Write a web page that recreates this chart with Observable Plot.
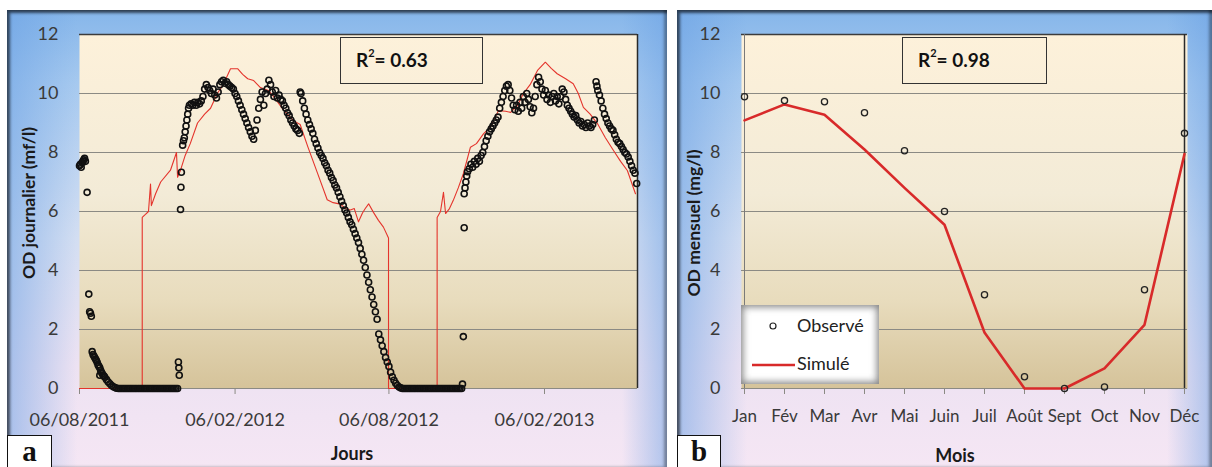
<!DOCTYPE html>
<html><head><meta charset="utf-8">
<script src="https://cdn.jsdelivr.net/npm/d3@7"></script>
<script src="https://cdn.jsdelivr.net/npm/@observablehq/plot@0.6"></script>
<style>
body{margin:0;background:#fff;width:1212px;height:467px;overflow:hidden;position:relative;font-family:Lato,"Open Sans",sans-serif;}
.panel{position:absolute;top:10px;height:457px;overflow:hidden;
 background:
  linear-gradient(90deg, rgba(105,160,228,.55) 0px, rgba(105,160,228,0) 70px, rgba(105,160,228,0) calc(100% - 45px), rgba(105,160,228,.5) 100%),
  linear-gradient(180deg, #86b6ea 0%, #a6c9ef 16%, #d3def2 50%, #ede2f2 78%, #f5e6f4 100%);
 box-shadow: inset 3px 3px 3px rgba(0,0,0,.6), inset -3px 0 3px rgba(0,0,0,.35);}
.panel svg{position:absolute;left:0;top:0;}
.ytitle{position:absolute;font-weight:700;font-size:17.5px;color:#1a1a1a;white-space:nowrap;transform:translate(-50%,-50%) rotate(-90deg);}
.xtitle{position:absolute;font-weight:700;font-size:18px;color:#1a1a1a;white-space:nowrap;transform:translate(-50%,-50%);}
.r2{position:absolute;border:1.5px solid #333;box-sizing:border-box;font-weight:700;font-size:19px;color:#111;padding-left:15px;line-height:44px;background:transparent;}
.r2 sup{font-size:11px;vertical-align:top;line-height:30px;}
.tag{position:absolute;background:#fff;border:1.5px solid #111;box-sizing:border-box;font-family:"Liberation Serif","DejaVu Serif",serif;font-weight:700;font-size:29px;line-height:30px;text-align:center;color:#111;}
.legend{position:absolute;background:#fff;box-shadow: inset 0 0 7px 2px rgba(90,90,90,.75);font-size:18px;color:#222;}
.legend div{position:absolute;left:56px;white-space:nowrap;}
</style></head>
<body>
<div id="pa" class="panel" style="left:7px;width:660px;"></div>
<div id="pb" class="panel" style="left:677px;width:535px;"></div>
<script>
// ---------- Data ----------
// Panel a: days since 06/08/2011, value (mg/l)
const startDate = "2011-08-06";
const endDate = "2013-05-27";
const xTickDates = ["2011-08-06","2012-02-06","2012-08-06","2013-02-06"];
const xTickLabels = ["06/08/2011","06/02/2012","06/08/2012","06/02/2013"];
const yTicks = [0,2,4,6,8,10,12];

const observedDaily = [
[0,7.55],[1,7.6],[2,7.5],[3,7.65],[4,7.7],[5,7.75],[6,7.8],[7,7.7],
[9,6.65],[11,3.2],[12,2.6],[13,2.55],[14,2.45],
[15,1.25],[16,1.15],[17,1.1],[18,1.05],[19,1.0],[20,0.95],[21,0.88],[22,0.8],[23,0.75],[24,0.7],[24,0.45],[25,0.62],[26,0.55],[27,0.5],[28,0.45],[29,0.42],[30,0.38],[32,0.3],[34,0.22],[36,0.16],[38,0.1],[40,0.06],[42,0.03],[44,0.01],
[46,0],[48,0],[50,0],[52,0],[54,0],[56,0],[58,0],[60,0],[62,0],[64,0],[66,0],[68,0],[70,0],[72,0],[74,0],[76,0],[78,0],[80,0],[82,0],[84,0],[86,0],[88,0],[90,0],[92,0],[94,0],[96,0],[98,0],[100,0],[102,0],[104,0],[106,0],[108,0],[110,0],[112,0],[114,0],[116,0],
[117,0.9],[117.5,0.7],[118,0.45],[119.5,6.07],[120,6.82],[120.5,7.33],
[122,8.25],[123,8.4],[124,8.5],[125,8.7],[126,8.9],[127,9.1],[128,9.3],[129,9.5],[130,9.6],[132,9.65],[134,9.6],[136,9.7],[138,9.6],[140,9.7],[142,9.65],[144,9.75],[146,9.9],[148,10.15],[150,10.3],[152,10.2],[154,10.1],[156,10.0],[158,10.15],[160,9.95],[162,9.85],[164,10.05],[166,10.3],[168,10.4],[170,10.45],[172,10.35],[174,10.4],[176,10.3],[178,10.25],[180,10.2],[182,10.15],[184,10.0],[186,9.9],[188,9.75],[190,9.6],[192,9.45],[194,9.3],[196,9.15],[198,9.0],[200,8.85],[202,8.7],[204,8.55],[206,8.45],[208,8.75],[210,9.1],[212,9.5],[214,9.8],[216,10.05],[218,9.6],[220,10.0],[222,10.15],[224,10.45],[226,10.3],[228,10.05],[230,9.9],[232,10.1],[234,9.85],[236,9.95],[238,9.8],[240,9.75],[242,9.6],[244,9.5],[246,9.35],[248,9.25],[250,9.1],[252,9.0],[254,8.9],[256,8.8],[258,8.75],[260,8.65],
[261,10.05],[262,10.0],[264,9.75],[266,9.5],[268,9.3],[270,9.1],[272,8.95],[274,8.8],[276,8.65],[278,8.45],[280,8.3],[282,8.15],[284,8.0],[286,7.9],[288,7.8],[290,7.65],[292,7.55],[294,7.4],[296,7.3],[298,7.15],[300,7.05],[302,6.9],[304,6.8],[306,6.65],[308,6.5],[310,6.35],[312,6.2],[314,6.05],[316,5.95],[318,5.8],[320,5.65],[322,5.55],[324,5.4],[326,5.25],[328,5.1],[330,4.95],[332,4.75],[334,4.55],[336,4.35],[338,4.1],[340,3.85],[342,3.6],[344,3.35],[346,3.1],[348,2.85],[350,2.6],[352,2.35],[354,1.85],[356,1.65],[358,1.45],[360,1.25],[362,1.05],[364,0.9],[366,0.75],[368,0.55],[370,0.4],[372,0.28],[374,0.18],[376,0.1],[378,0.05],[380,0.02],
[382,0],[384,0],[386,0],[388,0],[390,0],[392,0],[394,0],[396,0],[398,0],[400,0],[402,0],[404,0],[406,0],[408,0],[410,0],[412,0],[414,0],[416,0],[418,0],[420,0],[422,0],[424,0],[426,0],[428,0],[430,0],[432,0],[434,0],[436,0],[438,0],[440,0],[442,0],[444,0],[446,0],[448,0],[450,0],[452,0],
[453,0.15],[454,1.76],[455,5.45],
[455,6.6],[456,6.8],[457,7.0],[458,7.2],[459,7.35],[461,7.45],[463,7.6],[465,7.5],[467,7.7],[469,7.6],[471,7.8],[473,7.7],[475,7.9],[477,8.0],[479,8.2],[481,8.4],[483,8.55],[485,8.7],[487,8.8],[489,8.9],[491,9.0],[493,9.1],[495,9.2],[497,9.5],[499,9.7],[501,9.9],[503,10.1],[505,10.25],[507,10.3],[509,10.1],[511,9.85],[513,9.6],[515,9.45],[517,9.6],[519,9.4],[521,9.7],[523,9.5],[525,9.9],[527,9.7],[529,10.0],[531,9.8],[533,9.55],[535,9.35],[537,9.5],[539,9.9],[541,10.3],[543,10.55],[545,10.4],[547,10.15],[549,9.95],[551,10.1],[553,9.8],[555,9.95],[557,9.7],[559,9.9],[561,10.0],[563,9.75],[565,9.9],[567,9.65],[569,9.9],[571,10.15],[573,10.05],[575,9.8],[577,9.6],[579,9.5],[581,9.4],[583,9.3],[585,9.2],[587,9.25],[589,9.1],[591,9.0],[593,9.05],[595,8.9],[597,8.95],[599,8.85],[601,9.0],[603,8.9],[605,8.85],[607,8.95],[609,9.1],
[611,10.4],[612,10.25],[613,10.1],[615,9.95],[617,9.75],[619,9.5],[621,9.3],[623,9.15],[625,9.0],[627,8.9],[629,8.8],[631,8.75],[633,8.6],[635,8.45],[637,8.35],[639,8.3],[641,8.2],[643,8.1],[645,8.0],[647,7.95],[649,7.85],[651,7.7],[653,7.55],[655,7.4],[657,7.3],[659,6.95]
];

const simulatedDaily = [
[0,0],[74.2,0],[74.2,5.8],[78,5.9],[81.6,6.0],[84,6.93],[85,6.2],[90,6.6],[96,7.0],[107.6,7.4],[114.7,8.0],[116,7.16],[119.5,7.4],[125,7.9],[131,8.3],[139.6,9.0],[148,9.3],[155,9.5],[163,10.0],[170,10.3],[178.6,10.84],[187,10.84],[193,10.65],[199,10.5],[206,10.44],[214,10.2],[223.5,10.1],[229.5,9.9],[241,9.45],[253,9.08],[261,8.95],[270,8.2],[281.5,7.3],[293,6.4],[300,6.3],[308.7,6.25],[314.6,6.1],[320.5,6.05],[325,6.1],[330,5.65],[334.7,5.95],[338,6.1],[342,6.26],[347.7,5.97],[353.6,5.7],[359.5,5.47],[365.5,5.1],[365.5,0],
[423,0],[423,5.8],[427,6.0],[430.5,6.65],[433,5.93],[437.6,6.1],[442,6.37],[448,6.8],[454,7.28],[462.4,8.18],[469.5,8.3],[478,8.64],[486,8.86],[495.6,9.42],[504,9.4],[510,9.36],[518,9.59],[525,10.0],[533,10.3],[541.7,10.78],[551,11.06],[558,10.85],[565,10.67],[575,10.5],[584,10.33],[590,10.0],[596,9.53],[604,9.3],[612.6,8.98],[622,8.5],[631.6,8.07],[640,7.7],[648,7.39],[657.6,6.6]
];

// Panel b: monthly means
const months = ["Jan","Fév","Mar","Avr","Mai","Juin","Juil","Août","Sept","Oct","Nov","Déc"];
const observedMonthly = [9.89,9.76,9.72,9.35,8.06,6.0,3.18,0.4,0.0,0.05,3.35,8.65];
const simulatedMonthly = [9.09,9.63,9.28,8.1,6.8,5.55,1.9,0.0,0.0,0.68,2.16,7.95];

// ---------- Helpers ----------
const t0 = new Date(startDate);
const toDate = d => new Date(+t0 + d * 864e5);
const gradDefs = id => `<defs><linearGradient id="${id}" x1="0" y1="0" x2="0" y2="1">
<stop offset="0" stop-color="#fdf1da"/><stop offset="0.45" stop-color="#f3ebd7"/><stop offset="0.75" stop-color="#e8dcbd"/><stop offset="1" stop-color="#d5c39a"/></linearGradient></defs>`;
const gridVals = [2,4,6,8,10];
const baseStyle = {background:"transparent", fontFamily:"Lato, 'Open Sans', sans-serif", fontSize:"18px", color:"#3a3a3a", overflow:"visible"};

// ---------- Panel a ----------
const xEnd = new Date(endDate);
const plotA = Plot.plot({
  width: 660, height: 457,
  marginLeft: 72, marginRight: 30, marginTop: 24, marginBottom: 79,
  style: baseStyle,
  x: {type: "utc", domain: [t0, xEnd]},
  y: {domain: [0, 12]},
  marks: [
    Plot.frame({fill: "url(#gradA)", stroke: null}),
    Plot.ruleY(gridVals, {stroke: "#8b8a84", strokeWidth: 1}),
    Plot.ruleY([0], {stroke: "#8b8a84", strokeWidth: 1}),
    Plot.ruleY([12], {stroke: "#3c3c3c", strokeWidth: 1.5}),
    Plot.ruleX([xEnd], {stroke: "#2a2a2a", strokeWidth: 1.5}),
    Plot.axisX({ticks: xTickDates.map(s => new Date(s)), tickFormat: d => xTickLabels[xTickDates.indexOf(d.toISOString().slice(0,10))], tickSize: 6, tickPadding: 19, label: null, stroke: "#8b8a84"}),
    Plot.axisY({ticks: yTicks, tickSize: 0, tickPadding: 21, label: null}),
    Plot.line(simulatedDaily, {x: d => toDate(d[0]), y: d => d[1], stroke: "#e4342c", strokeWidth: 1.1}),
    Plot.dot(observedDaily, {x: d => toDate(d[0]), y: d => d[1], r: 3, stroke: "#111", strokeWidth: 1.6, fill: "none"})
  ]
});
plotA.insertAdjacentHTML("afterbegin", gradDefs("gradA"));
const pa = document.getElementById("pa");
pa.appendChild(plotA);
pa.insertAdjacentHTML("beforeend", `
<div class="ytitle" style="left:21px;top:193px;">OD journalier (mf/l)</div>
<div class="xtitle" style="left:345px;top:443px;">Jours</div>
<div class="r2" style="left:333px;top:27px;width:143px;height:47px;">R<sup>2</sup>= 0.63</div>
<div class="tag" style="left:0px;top:425px;width:45px;height:40px;">a</div>`);

// ---------- Panel b ----------
const plotB = Plot.plot({
  width: 535, height: 457,
  marginLeft: 64, marginRight: 25, marginTop: 24, marginBottom: 79,
  style: baseStyle,
  x: {type: "point", domain: months, padding: 0},
  y: {domain: [0, 12]},
  marks: [
    Plot.frame({fill: "url(#gradB)", stroke: null}),
    Plot.ruleY(gridVals, {stroke: "#8b8a84", strokeWidth: 1}),
    Plot.ruleY([0], {stroke: "#8b8a84", strokeWidth: 1}),
    Plot.ruleY([12], {stroke: "#3c3c3c", strokeWidth: 1.5}),
    Plot.ruleX(["Jan"], {stroke: "#7a7a7a", strokeWidth: 1}),
    Plot.ruleX(["Déc"], {stroke: "#2a2a2a", strokeWidth: 1.5}),
    Plot.axisX({tickSize: 6, tickPadding: 15, label: null, stroke: "#8b8a84", fontSize: 17}),
    Plot.axisY({ticks: yTicks, tickSize: 0, tickPadding: 21, label: null}),
    Plot.line(months.map((m, i) => ({m, v: simulatedMonthly[i]})), {x: "m", y: "v", stroke: "#d82a2a", strokeWidth: 2.6}),
    Plot.dot(months.map((m, i) => ({m, v: observedMonthly[i]})), {x: "m", y: "v", r: 3.1, stroke: "#222", strokeWidth: 1.3, fill: "none"})
  ]
});
plotB.insertAdjacentHTML("afterbegin", gradDefs("gradB"));
const pb = document.getElementById("pb");
pb.appendChild(plotB);
pb.insertAdjacentHTML("beforeend", `
<div class="ytitle" style="left:16px;top:213px;">OD mensuel (mg/l)</div>
<div class="xtitle" style="left:278px;top:445px;">Mois</div>
<div class="r2" style="left:225px;top:27px;width:145px;height:47px;">R<sup>2</sup>= 0.98</div>
<div class="legend" style="left:64px;top:295px;width:138px;height:79px;">
  <svg width="138" height="79" style="position:absolute;left:0;top:0"><circle cx="32" cy="21" r="3" fill="none" stroke="#222" stroke-width="1.2"/><line x1="11" y1="60" x2="54" y2="60" stroke="#d82a2a" stroke-width="2.6"/></svg>
  <div style="top:9px;">Observé</div>
  <div style="top:47px;">Simulé</div>
</div>
<div class="tag" style="left:0px;top:425px;width:44px;height:40px;">b</div>`);
</script>
</body></html>
